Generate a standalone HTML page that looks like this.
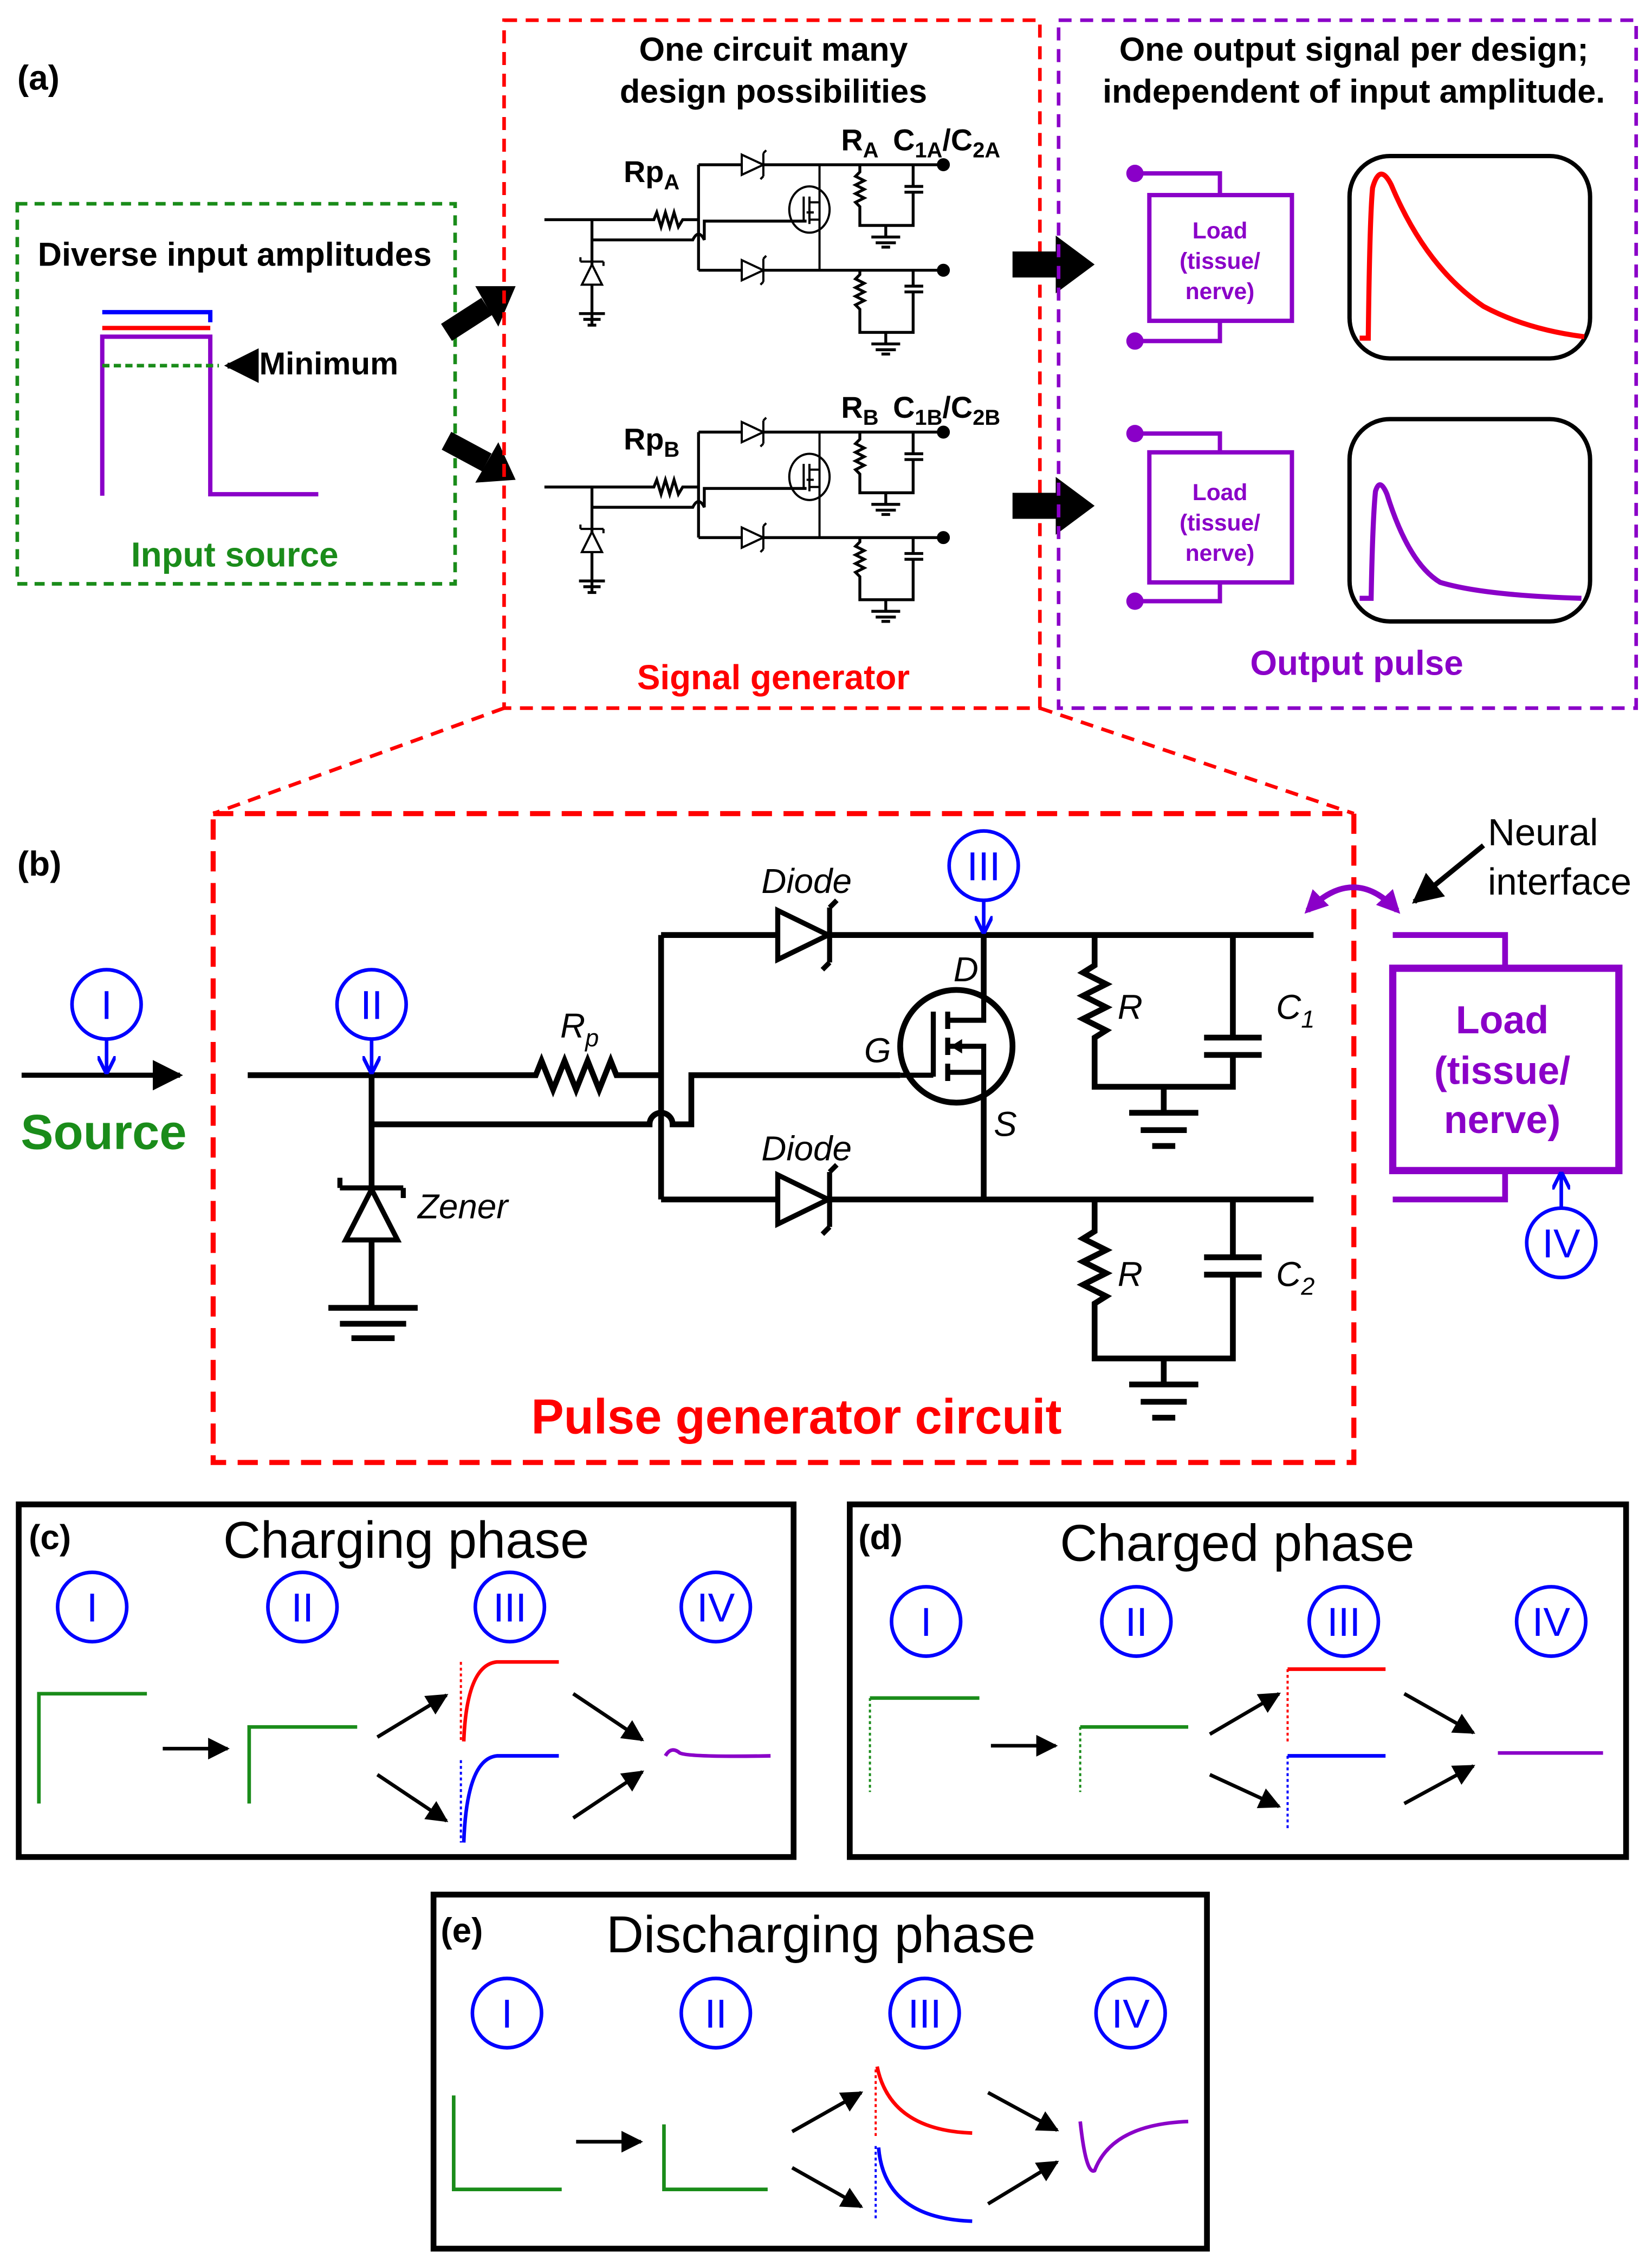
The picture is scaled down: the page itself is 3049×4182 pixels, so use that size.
<!DOCTYPE html>
<html><head><meta charset="utf-8"><style>
html,body{margin:0;padding:0;background:#fff}
svg{display:block}
text{font-family:"Liberation Sans",sans-serif}
</style></head><body>
<svg width="3049" height="4182" viewBox="0 0 1147 1568" preserveAspectRatio="none" xmlns="http://www.w3.org/2000/svg">
<defs>
<marker id="ah" viewBox="0 0 10 10" refX="9" refY="5" markerWidth="6" markerHeight="6" orient="auto-start-reverse"><path d="M0,0 L10,5 L0,10 z" fill="#000"/></marker>
<marker id="bh" viewBox="0 0 10 10" refX="9" refY="5" markerWidth="5" markerHeight="5" orient="auto"><path d="M0,0 L10,5 L0,10" fill="none" stroke="#00f" stroke-width="2"/></marker>
<marker id="ph" viewBox="0 0 10 10" refX="8" refY="5" markerWidth="4" markerHeight="4" orient="auto-start-reverse"><path d="M0,0 L10,5 L0,10 z" fill="#8a00c8"/></marker>
<g id="smallckt" fill="none" stroke="#000" stroke-width="2">
  <path d="M378,152 H454 l2,-5 3,10 3,-10 3,10 3,-10 3,10 3,-5 H485"/>
  <path d="M411,152 V225"/>
  <path d="M411,166 H481 q4,-8 8,0 V153 H560"/>
  <path d="M485,114 V187"/>
  <path d="M485,114 H655 M485,187 H655"/>
  <path d="M515,107 L530,114 L515,121 Z" fill="#fff" stroke-width="1.5"/><path d="M530,106 V122 M530,106 l2,-2 M530,122 l-2,2" stroke-width="1.5"/>
  <path d="M515,180 L530,187 L515,194 Z" fill="#fff" stroke-width="1.5"/><path d="M530,179 V195 M530,179 l2,-2 M530,195 l-2,2" stroke-width="1.5"/>
  <path d="M411,197 L404,197 L411,183 L418,197 Z" fill="#fff" stroke-width="1.5"/><path d="M403,181 H419 M403,181 v-3 M419,181 v3" stroke-width="1.5"/>
  <path d="M402,217 H420 M405,221 H417 M408,225 H414" stroke-width="2"/>
  <ellipse cx="562" cy="145" rx="14" ry="16" stroke-width="1.5"/>
  <path d="M569,114 V187 M558,136 V153 M562,136 V155 M562,140 H569 M562,152 H569 M560,147 h5" stroke-width="1.5"/>
  <path d="M597,114 v5 l-3,3 6,3 -6,3 6,3 -6,3 6,3 -6,3 3,3 V156 H634 V133 M634,114 V129 M628,129 H641 M628,133 H641" stroke-width="2"/>
  <path d="M615,156 V164 M605,164 H625 M608,168 H622 M612,171 H618"/>
  <path d="M597,187 v3 l-3,3 6,3 -6,3 6,3 -6,3 6,3 -6,3 3,3 V230 H634 V202 M634,187 V198 M628,198 H641 M628,202 H641" stroke-width="2"/>
  <path d="M615,230 V238 M605,238 H625 M608,242 H622 M612,245 H618"/>
  <circle cx="655" cy="114" r="3.5" fill="#000"/><circle cx="655" cy="187" r="3.5" fill="#000"/>
</g>
</defs>

<!-- (a) -->
<text x="12" y="62" font-family="Liberation Serif" font-weight="bold" font-size="24">(a)</text>
<rect x="12" y="141" width="304" height="263" fill="none" stroke="#1a8c1a" stroke-width="2.5" stroke-dasharray="7,5"/>
<text x="163" y="184" text-anchor="middle" font-weight="bold" font-size="23">Diverse input amplitudes</text>
<path d="M71,216 H146 V223" stroke="#00f" stroke-width="3" fill="none"/>
<path d="M71,227 H146" stroke="#f00" stroke-width="3"/>
<path d="M71,343 V233 H146 V342 H221" stroke="#8a00c8" stroke-width="3" fill="none"/>
<path d="M71,253 H152" stroke="#1a8c1a" stroke-width="2.5" stroke-dasharray="5,3"/>
<path d="M175,253 H158" stroke="#000" stroke-width="4" marker-end="url(#ah)"/>
<text x="180" y="259" font-weight="bold" font-size="22">Minimum</text>
<text x="163" y="392" text-anchor="middle" font-weight="bold" font-size="24" fill="#1a8c1a">Input source</text>

<path d="M310,230 L338,212" stroke="#000" stroke-width="14"/><path d="M330,198 L358,198 L346,226 Z" fill="#000"/>
<path d="M310,305 L338,320" stroke="#000" stroke-width="14"/><path d="M346,306 L358,332 L330,334 Z" fill="#000"/>

<rect x="350" y="14" width="372" height="476" fill="none" stroke="#f00" stroke-width="2.5" stroke-dasharray="9,6"/>
<text x="537" y="42" text-anchor="middle" font-weight="bold" font-size="23">One circuit many</text>
<text x="537" y="71" text-anchor="middle" font-weight="bold" font-size="23">design possibilities</text>
<use href="#smallckt"/>
<use href="#smallckt" transform="translate(0,185)"/>
<text x="433" y="126" font-weight="bold" font-size="21">Rp<tspan font-size="15" dy="5">A</tspan></text>
<text x="584" y="104" font-weight="bold" font-size="21">R<tspan font-size="15" dy="5">A</tspan></text>
<text x="620" y="104" font-weight="bold" font-size="21">C<tspan font-size="15" dy="5">1A</tspan><tspan dy="-5">/C</tspan><tspan font-size="15" dy="5">2A</tspan></text>
<text x="433" y="311" font-weight="bold" font-size="21">Rp<tspan font-size="15" dy="5">B</tspan></text>
<text x="584" y="289" font-weight="bold" font-size="21">R<tspan font-size="15" dy="5">B</tspan></text>
<text x="620" y="289" font-weight="bold" font-size="21">C<tspan font-size="15" dy="5">1B</tspan><tspan dy="-5">/C</tspan><tspan font-size="15" dy="5">2B</tspan></text>
<text x="537" y="477" text-anchor="middle" font-weight="bold" font-size="24" fill="#f00">Signal generator</text>

<path d="M703,183 H735" stroke="#000" stroke-width="18"/><path d="M733,163 L760,183 L733,203 Z" fill="#000"/>
<path d="M703,350 H735" stroke="#000" stroke-width="18"/><path d="M733,330 L760,350 L733,370 Z" fill="#000"/>

<rect x="735" y="14" width="401" height="476" fill="none" stroke="#8a00c8" stroke-width="2.5" stroke-dasharray="9,6"/>
<text x="940" y="42" text-anchor="middle" font-weight="bold" font-size="23">One output signal per design;</text>
<text x="940" y="71" text-anchor="middle" font-weight="bold" font-size="23">independent of input amplitude.</text>
<g stroke="#8a00c8" fill="none" stroke-width="3">
<rect x="798" y="135" width="99" height="87"/>
<path d="M788,120 H847 V135 M788,236 H847 V222"/>
<rect x="798" y="313" width="99" height="90"/>
<path d="M788,300 H847 V313 M788,416 H847 V403"/>
</g>
<g fill="#8a00c8"><circle cx="788" cy="120" r="6"/><circle cx="788" cy="236" r="6"/><circle cx="788" cy="300" r="6"/><circle cx="788" cy="416" r="6"/></g>
<g font-size="16" font-weight="bold" fill="#8a00c8" text-anchor="middle">
<text x="847" y="165">Load</text><text x="847" y="186">(tissue/</text><text x="847" y="207">nerve)</text>
<text x="847" y="346">Load</text><text x="847" y="367">(tissue/</text><text x="847" y="388">nerve)</text>
</g>
<rect x="937" y="108" width="167" height="140" rx="28" fill="none" stroke="#000" stroke-width="3"/>
<path d="M944,234 H950 Q951,150 953,130 Q958,112 966,128 Q990,185 1030,212 Q1060,228 1100,233" fill="none" stroke="#f00" stroke-width="3.5"/>
<rect x="937" y="290" width="167" height="140" rx="28" fill="none" stroke="#000" stroke-width="3"/>
<path d="M944,414 H952 Q953,360 955,340 Q958,330 963,342 Q978,390 1000,403 Q1030,412 1098,414" fill="none" stroke="#8a00c8" stroke-width="3.5"/>
<text x="942" y="467" text-anchor="middle" font-weight="bold" font-size="24" fill="#8a00c8">Output pulse</text>

<path d="M350,490 L148,563 M722,490 L940,563" stroke="#f00" stroke-width="2.5" stroke-dasharray="9,6"/>

<!-- (b) -->
<text x="12" y="606" font-family="Liberation Serif" font-weight="bold" font-size="24">(b)</text>
<rect x="148" y="563" width="792" height="449" fill="none" stroke="#f00" stroke-width="3.5" stroke-dasharray="14,8"/>
<text x="553" y="992" text-anchor="middle" font-weight="bold" font-size="34" fill="#f00">Pulse generator circuit</text>

<path d="M15,744 H125" stroke="#000" stroke-width="3.5" marker-end="url(#ah)"/>
<text x="72" y="795" text-anchor="middle" font-weight="bold" font-size="34" fill="#1a8c1a">Source</text>

<g fill="none" stroke="#000" stroke-width="4">
<path d="M172,744 H372 l4,-10 8,20 8,-20 8,20 8,-20 8,20 8,-20 4,10 H459"/>
<path d="M258,744 V905"/>
<path d="M258,778 H451 a8,8 0 0 1 16,0 H480 V744 H625"/>
<path d="M459,647 V830"/>
<path d="M459,647 H912 M459,830 H912"/>
<path d="M683,647 V690 M683,758 V830"/>
<path d="M760,647 V668 l-8,5 16,8 -16,8 16,8 -16,8 16,8 -8,5 V752 H856 V730 M856,647 V718 M836,718 H876 M836,730 H876"/>
<path d="M808,752 V770 M784,770 H832 M792,782 H824 M800,793 H816"/>
<path d="M760,830 V852 l-8,5 16,8 -16,8 16,8 -16,8 16,8 -8,5 V940 H856 V882 M856,830 V870 M836,870 H876 M836,882 H876"/>
<path d="M808,940 V958 M784,958 H832 M792,970 H824 M800,981 H816"/>
<path d="M228,905 H290 M236,916 H282 M244,926 H274"/>
</g>
<path d="M540,630 L575,647 L540,664 Z" fill="#fff" stroke="#000" stroke-width="3.5"/>
<path d="M576,628 V666 M576,628 l5,-5 M576,666 l-5,5" stroke="#000" stroke-width="3.5" fill="none"/>
<path d="M540,813 L575,830 L540,847 Z" fill="#fff" stroke="#000" stroke-width="3.5"/>
<path d="M576,811 V849 M576,811 l5,-5 M576,849 l-5,5" stroke="#000" stroke-width="3.5" fill="none"/>
<path d="M258,823 L240,858 L276,858 Z" fill="#fff" stroke="#000" stroke-width="3.5"/>
<path d="M236,822 H280 M236,822 v-7 M280,822 v7" stroke="#000" stroke-width="3.5" fill="none"/>
<circle cx="664" cy="724" r="39" fill="none" stroke="#000" stroke-width="4"/>
<path d="M648,700 V745 M658,700 V712 M658,718 V730 M658,736 V748 M658,706 H683 V690 M658,742 H683 V758 M658,724 H683 V742 M625,744 H648" stroke="#000" stroke-width="3.5" fill="none"/>
<path d="M660,724 l8,-5 v10 z" fill="#000"/>
<text x="560" y="618" text-anchor="middle" font-style="italic" font-size="24">Diode</text>
<text x="560" y="803" text-anchor="middle" font-style="italic" font-size="24">Diode</text>
<text x="290" y="843" font-style="italic" font-size="24">Zener</text>
<text x="389" y="718" font-style="italic" font-size="24">R<tspan font-size="17" dy="6">p</tspan></text>
<text x="662" y="679" font-style="italic" font-size="24">D</text>
<text x="600" y="735" font-style="italic" font-size="24">G</text>
<text x="690" y="786" font-style="italic" font-size="24">S</text>
<text x="776" y="705" font-style="italic" font-size="24">R</text>
<text x="886" y="705" font-style="italic" font-size="24">C<tspan font-size="17" dy="6">1</tspan></text>
<text x="776" y="890" font-style="italic" font-size="24">R</text>
<text x="886" y="890" font-style="italic" font-size="24">C<tspan font-size="17" dy="6">2</tspan></text>

<path d="M908,630 Q940,598 970,630" fill="none" stroke="#8a00c8" stroke-width="4" marker-start="url(#ph)" marker-end="url(#ph)"/>
<path d="M1030,585 L982,624" stroke="#000" stroke-width="3.5" marker-end="url(#ah)"/>
<text x="1033" y="585" font-size="26">Neural</text>
<text x="1033" y="619" font-size="26">interface</text>
<rect x="967" y="670" width="157" height="140" fill="none" stroke="#8a00c8" stroke-width="5"/>
<path d="M967,647 H1045 V670 M1045,810 V830 H967" fill="none" stroke="#8a00c8" stroke-width="4"/>
<g font-weight="bold" font-size="27" fill="#8a00c8" text-anchor="middle">
<text x="1043" y="715">Load</text><text x="1043" y="750">(tissue/</text><text x="1043" y="784">nerve)</text></g>

<!-- roman circles -->
<g fill="none" stroke="#00f" stroke-width="2.5">
<circle cx="74" cy="695" r="24"/><circle cx="258" cy="695" r="24"/><circle cx="683" cy="599" r="24"/><circle cx="1084" cy="860" r="24"/>
<path d="M74,719 V742" marker-end="url(#bh)"/><path d="M258,719 V742" marker-end="url(#bh)"/><path d="M683,623 V645" marker-end="url(#bh)"/><path d="M1084,836 V812" marker-end="url(#bh)"/>
<circle cx="64" cy="1112" r="24"/><circle cx="210" cy="1112" r="24"/><circle cx="354" cy="1112" r="24"/><circle cx="497" cy="1112" r="24"/>
<circle cx="643" cy="1122" r="24"/><circle cx="789" cy="1122" r="24"/><circle cx="933" cy="1122" r="24"/><circle cx="1077" cy="1122" r="24"/>
<circle cx="352" cy="1393" r="24"/><circle cx="497" cy="1393" r="24"/><circle cx="642" cy="1393" r="24"/><circle cx="785" cy="1393" r="24"/>
</g>
<g fill="#00f" font-size="28" text-anchor="middle">
<text x="74" y="705">I</text><text x="258" y="705">II</text><text x="683" y="609">III</text><text x="1084" y="870">IV</text>
<text x="64" y="1122">I</text><text x="210" y="1122">II</text><text x="354" y="1122">III</text><text x="497" y="1122">IV</text>
<text x="643" y="1132">I</text><text x="789" y="1132">II</text><text x="933" y="1132">III</text><text x="1077" y="1132">IV</text>
<text x="352" y="1403">I</text><text x="497" y="1403">II</text><text x="642" y="1403">III</text><text x="785" y="1403">IV</text>
</g>

<!-- (c) -->
<rect x="13" y="1041" width="538" height="244" fill="none" stroke="#000" stroke-width="4"/>
<text x="20" y="1072" font-family="Liberation Serif" font-weight="bold" font-size="24">(c)</text>
<text x="282" y="1078" text-anchor="middle" font-size="36">Charging phase</text>
<path d="M27,1248 V1172 H102 M173,1248 V1195 H248" fill="none" stroke="#1a8c1a" stroke-width="2.5"/>
<g stroke="#000" stroke-width="2.5" fill="none" marker-end="url(#ah)">
<path d="M113,1210 H158"/><path d="M262,1202 L310,1173"/><path d="M262,1228 L310,1260"/><path d="M398,1172 L446,1204"/><path d="M398,1258 L446,1226"/>
<path d="M688,1208 H733"/><path d="M840,1200 L888,1172"/><path d="M840,1228 L888,1250"/><path d="M975,1172 L1023,1199"/><path d="M975,1248 L1023,1222"/>
<path d="M400,1482 H445"/><path d="M550,1475 L598,1448"/><path d="M550,1500 L598,1527"/><path d="M686,1448 L734,1474"/><path d="M686,1525 L734,1496"/>
</g>
<path d="M320,1150 V1205" stroke="#f00" stroke-width="1.5" stroke-dasharray="2,2"/>
<path d="M322,1205 Q324,1152 345,1150 H388" fill="none" stroke="#f00" stroke-width="2.5"/>
<path d="M320,1218 V1275" stroke="#00f" stroke-width="1.5" stroke-dasharray="2,2"/>
<path d="M322,1275 Q324,1217 345,1215 H388" fill="none" stroke="#00f" stroke-width="2.5"/>
<path d="M462,1215 Q466,1208 472,1213 Q478,1216 535,1215" fill="none" stroke="#8a00c8" stroke-width="2.5"/>

<!-- (d) -->
<rect x="590" y="1041" width="539" height="244" fill="none" stroke="#000" stroke-width="4"/>
<text x="596" y="1072" font-family="Liberation Serif" font-weight="bold" font-size="24">(d)</text>
<text x="859" y="1080" text-anchor="middle" font-size="36">Charged phase</text>
<path d="M604,1175 V1240 M750,1195 V1240" stroke="#1a8c1a" stroke-width="1.5" stroke-dasharray="2,2"/>
<path d="M604,1175 H680 M750,1195 H825" stroke="#1a8c1a" stroke-width="2.5"/>
<path d="M894,1155 V1205" stroke="#f00" stroke-width="1.5" stroke-dasharray="2,2"/><path d="M894,1155 H962" stroke="#f00" stroke-width="2.5"/>
<path d="M894,1215 V1265" stroke="#00f" stroke-width="1.5" stroke-dasharray="2,2"/><path d="M894,1215 H962" stroke="#00f" stroke-width="2.5"/>
<path d="M1040,1213 H1113" stroke="#8a00c8" stroke-width="2.5"/>

<!-- (e) -->
<rect x="301" y="1311" width="537" height="245" fill="none" stroke="#000" stroke-width="4"/>
<text x="306" y="1344" font-family="Liberation Serif" font-weight="bold" font-size="24">(e)</text>
<text x="570" y="1351" text-anchor="middle" font-size="36">Discharging phase</text>
<path d="M315,1450 V1515 H390 M461,1470 V1515 H533" fill="none" stroke="#1a8c1a" stroke-width="2.5"/>
<path d="M608,1432 V1480" stroke="#f00" stroke-width="1.5" stroke-dasharray="2,2"/>
<path d="M609,1430 Q618,1474 675,1476" fill="none" stroke="#f00" stroke-width="2.5"/>
<path d="M608,1485 V1535" stroke="#00f" stroke-width="1.5" stroke-dasharray="2,2"/>
<path d="M610,1486 Q614,1535 675,1537" fill="none" stroke="#00f" stroke-width="2.5"/>
<path d="M750,1468 Q754,1505 760,1502 Q772,1470 825,1468" fill="none" stroke="#8a00c8" stroke-width="2.5"/>
</svg>
</body></html>
